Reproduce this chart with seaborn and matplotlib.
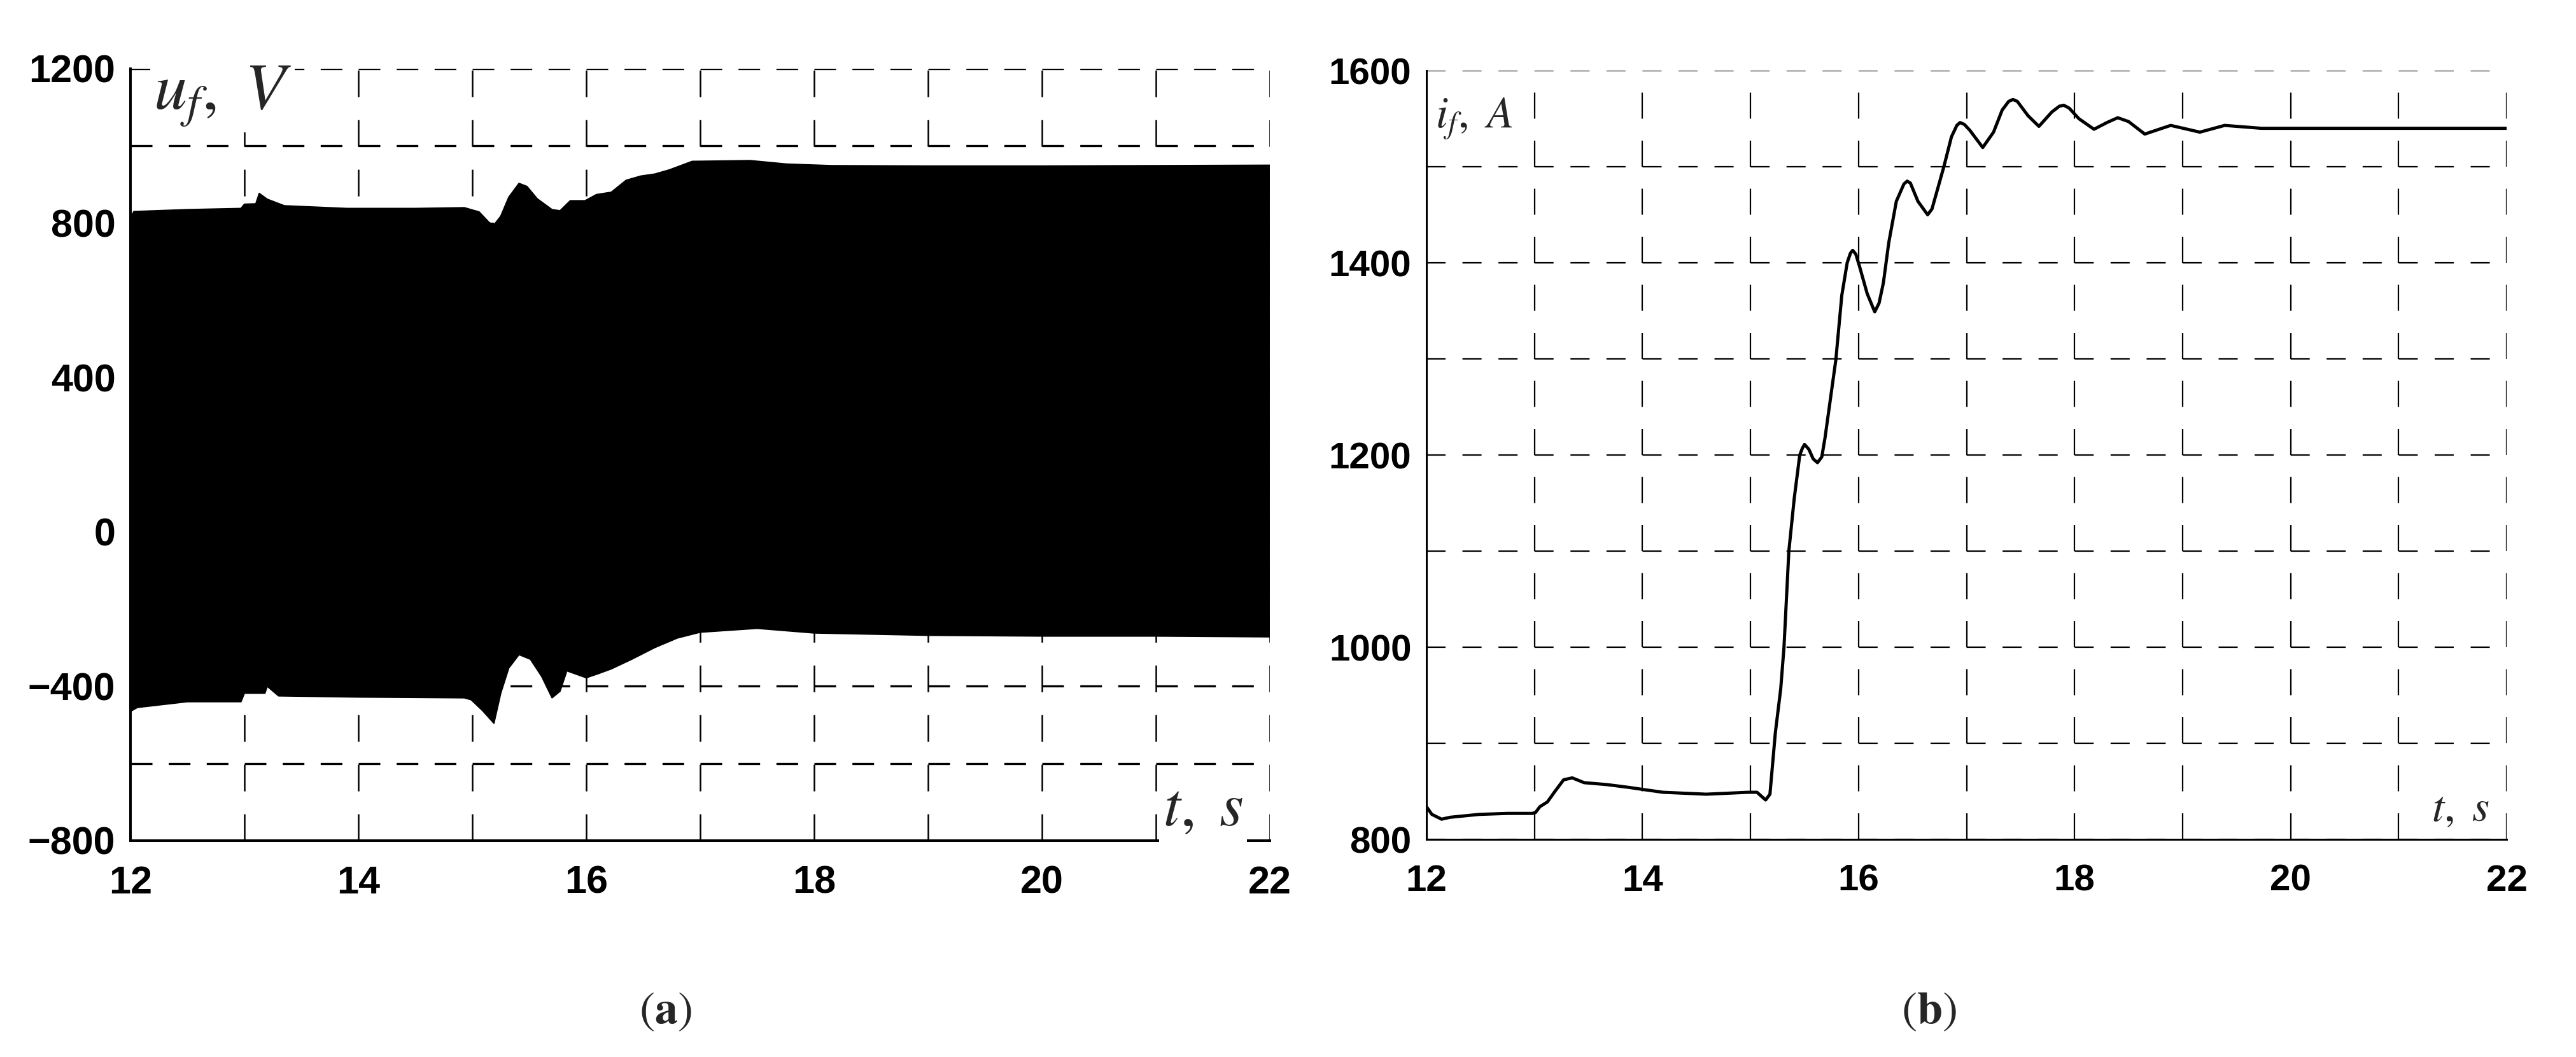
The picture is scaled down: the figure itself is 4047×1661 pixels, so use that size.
import matplotlib
matplotlib.use("Agg")
import matplotlib.pyplot as plt
from matplotlib.ticker import MultipleLocator
import seaborn as sns

sns.set_style("white")
plt.rcParams["font.family"] = ["Liberation Sans Narrow", "Liberation Sans", "DejaVu Sans"]
plt.rcParams["mathtext.fontset"] = "stix"
plt.rcParams["lines.scale_dashes"] = False

# ---- (a) field voltage u_f: envelope of the fast switching signal ----
uf_t_upper = [12.0, 12.03, 12.5, 12.97, 13.0, 13.1, 13.13, 13.2, 13.35, 13.9, 14.5,
              14.93, 15.06, 15.15, 15.19, 15.25, 15.32, 15.41, 15.48, 15.57, 15.7,
              15.77, 15.86, 15.99, 16.09, 16.22, 16.35, 16.48, 16.6, 16.73, 16.83,
              16.93, 17.44, 17.76, 18.15, 19.0, 20.0, 21.0, 22.0]
uf_upper = [815, 830, 835, 838, 849, 850, 877, 862, 845, 838, 838,
            840, 829, 801, 795, 818, 867, 903, 895, 863, 835,
            832, 858, 858, 874, 880, 911, 922, 927, 938, 949,
            960, 962, 953, 949, 948, 948, 949, 950]

uf_t_lower = [12.0, 12.06, 12.5, 12.97, 13.0, 13.18, 13.2, 13.3, 14.0, 14.93, 14.99,
              15.09, 15.19, 15.25, 15.32, 15.41, 15.51, 15.61, 15.7, 15.77, 15.83,
              16.0, 16.1, 16.22, 16.4, 16.6, 16.8, 17.0, 17.5, 18.0, 19.0, 20.0,
              21.0, 22.0]
uf_lower = [-465, -455, -440, -440, -418, -418, -400, -425, -428, -430, -435,
            -463, -496, -418, -353, -318, -330, -375, -430, -413, -360,
            -378, -368, -355, -330, -300, -275, -260, -250, -262, -268, -270,
            -270, -272]

# ---- (b) field current i_f ----
if_t = [12.0, 12.05, 12.14, 12.22, 12.49, 12.75, 12.98, 13.01, 13.05, 13.12, 13.19,
        13.27, 13.35, 13.46, 13.67, 13.88, 14.0, 14.19, 14.59, 14.98, 15.06, 15.14,
        15.18, 15.23, 15.28, 15.31, 15.355, 15.405, 15.456, 15.48, 15.5, 15.54,
        15.58, 15.62, 15.66, 15.69, 15.79, 15.845, 15.895, 15.925, 15.946, 15.975,
        16.01, 16.08, 16.15, 16.19, 16.23, 16.28, 16.35, 16.42, 16.45, 16.48,
        16.55, 16.64, 16.68, 16.72, 16.79, 16.86, 16.91, 16.94, 16.98, 17.03,
        17.15, 17.25, 17.33, 17.39, 17.43, 17.47, 17.57, 17.67, 17.79, 17.86,
        17.9, 17.95, 18.04, 18.18, 18.3, 18.4, 18.5, 18.65, 18.89, 19.16,
        19.39, 19.73, 20.3, 21.0, 22.0]
if_val = [834, 826, 821, 823, 826, 827, 827, 828, 834, 839, 850,
          862, 864, 859, 857, 854, 852, 849, 847, 849, 849, 841,
          847, 911, 957, 1000, 1100, 1155, 1200, 1207, 1211, 1206,
          1196, 1192, 1198, 1218, 1299, 1366, 1400, 1410, 1413, 1409,
          1396, 1368, 1349, 1358, 1379, 1421, 1464, 1482, 1485, 1483,
          1464, 1450, 1456, 1472, 1500, 1531, 1543, 1546, 1544, 1538,
          1520, 1536, 1559, 1568, 1570, 1568, 1553, 1542, 1557, 1563,
          1564, 1561, 1550, 1539, 1546, 1551, 1547, 1534, 1543, 1536,
          1543, 1540, 1540, 1540, 1540]


def style_axes(ax, ylim, ymaj, ymin, hdash, vdash, lw_h, lw_v, lw_sp, lab_size):
    ax.set_xlim(12, 22)
    ax.set_ylim(*ylim)
    ax.xaxis.set_major_locator(MultipleLocator(2))
    ax.xaxis.set_minor_locator(MultipleLocator(1))
    ax.yaxis.set_major_locator(MultipleLocator(ymaj))
    ax.yaxis.set_minor_locator(MultipleLocator(ymin))
    ax.set_axisbelow(True)
    ax.grid(True, which="both", axis="x", color="black", lw=lw_v, linestyle=(0, vdash))
    ax.grid(True, which="both", axis="y", color="black", lw=lw_h, linestyle=(0, hdash))
    for s in ["top", "right"]:
        ax.spines[s].set_visible(False)
    for s in ["left", "bottom"]:
        ax.spines[s].set_color("black")
        ax.spines[s].set_linewidth(lw_sp)
    ax.tick_params(axis="both", which="both", direction="out", color="black",
                   width=lw_sp, labelsize=lab_size, labelcolor="black")
    ax.tick_params(axis="y", which="both", length=11, pad=6)
    ax.tick_params(axis="x", which="both", length=14, pad=14)
    ax.set_xlabel("")
    ax.set_ylabel("")


fig = plt.figure(figsize=(40.48, 16.61), dpi=100)
ax_a = fig.add_axes([0.05064, 0.20470, 0.44219, 0.73028])
ax_b = fig.add_axes([0.55361, 0.20590, 0.41922, 0.72727])

# panel (a)
ax_a.fill(uf_t_upper + uf_t_lower[::-1], uf_upper + uf_lower[::-1],
          color="black", lw=0, zorder=2)
sns.lineplot(x=uf_t_upper, y=uf_upper, ax=ax_a, color="black", lw=1.5,
             sort=False, estimator=None, zorder=2)
sns.lineplot(x=uf_t_lower, y=uf_lower, ax=ax_a, color="black", lw=1.5,
             sort=False, estimator=None, zorder=2)
style_axes(ax_a, (-800, 1200), 400, 200,
           hdash=(24.5, 18.46), vdash=(30.2, 25.9),
           lw_h=2.4, lw_v=1.8, lw_sp=2.9, lab_size=44)

box = dict(facecolor="white", edgecolor="none", pad=4)
ax_a.text(0.02, 0.947, r"$u_f,\ V$", transform=ax_a.transAxes, fontsize=75,
          ha="left", va="baseline", bbox=box, zorder=5)
ax_a.text(0.9765, 0.02, r"$t,\ s$", transform=ax_a.transAxes, fontsize=70,
          ha="right", va="baseline", bbox=box, zorder=5)

# panel (b)
sns.lineplot(x=if_t, y=if_val, ax=ax_b, color="black", lw=3.6,
             sort=False, estimator=None, zorder=2)
style_axes(ax_b, (800, 1600), 200, 100,
           hdash=(21.6, 19.13), vdash=(29.5, 24.86),
           lw_h=1.6, lw_v=1.6, lw_sp=2.2, lab_size=42)
ax_b.text(0.008, 0.926, r"$i_f,\ A$", transform=ax_b.transAxes, fontsize=50,
          ha="left", va="baseline", bbox=box, zorder=5)
ax_b.text(0.984, 0.024, r"$t,\ s$", transform=ax_b.transAxes, fontsize=50,
          ha="right", va="baseline", bbox=box, zorder=5)

# captions
fig.text(1045 / 4048, 1 - 1590 / 1661, r"$(\mathbf{a})$", fontsize=52,
         ha="center", va="center")
fig.text(3030 / 4048, 1 - 1590 / 1661, r"$(\mathbf{b})$", fontsize=52,
         ha="center", va="center")

# bold tick numbers (set after a draw so every tick exists)
fig.canvas.draw()
for ax in (ax_a, ax_b):
    for lab in ax.get_xticklabels() + ax.get_yticklabels():
        lab.set_fontweight("bold")

fig.savefig("out.png", dpi=100)
